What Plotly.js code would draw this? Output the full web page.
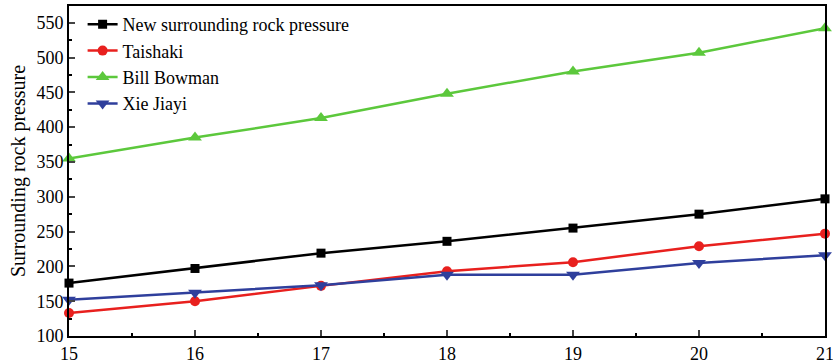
<!DOCTYPE html>
<html><head><meta charset="utf-8">
<script src="https://cdn.plot.ly/plotly-3.0.1.min.js"></script>
<style>body{margin:0;background:#fff}#c{width:833px;height:364px}</style>
</head><body><div id="c"></div>
<script>
const xs = [15,16,17,18,19,20,21];
const newPressure = [176,197,219,236,255,275,297];
const taishaki = [133,150,172,193,206,229,247];
const billBowman = [355,385,413,448,480,507,542];
const xieJiayi = [152,162,173,188,188,205,216];
const names = ['New surrounding rock pressure','Taishaki','Bill Bowman','Xie Jiayi'];
const colors = ['#000000','#e8201e','#5cc83c','#2f3f9c'];
const symbols = ['square','circle','triangle-up','triangle-down'];
const sizes = [9,10,12,12];
const series = [newPressure, taishaki, billBowman, xieJiayi];
const traces = series.map((y,i)=>({x:xs,y:y,name:names[i],mode:'lines+markers',
  line:{color:colors[i],width:2.5},marker:{symbol:symbols[i],size:sizes[i],color:colors[i]},cliponaxis:false}));
const font = {family:'"Liberation Serif", "Times New Roman", serif', color:'#000', size:18};
Plotly.newPlot('c', traces, {
  width:833,height:364,margin:{l:69,r:8,t:6,b:28},
  paper_bgcolor:'#fff',plot_bgcolor:'#fff',font:font,showlegend:true,
  legend:{x:0.018,y:1.0,xanchor:'left',yanchor:'top',bgcolor:'rgba(0,0,0,0)',font:{family:font.family,size:18,color:'#000'},
    tracegroupgap:0,itemsizing:'trace'},
  xaxis:{range:[15,21],tickvals:xs,ticks:'inside',ticklen:6,tickwidth:1.5,showgrid:false,zeroline:false,
    showline:true,linecolor:'#000',linewidth:2,mirror:true,tickfont:{size:18},ticklabeloverflow:'allow',
    minor:{dtick:0.5,ticks:'inside',ticklen:3,tickcolor:'#000',showgrid:false}},
  yaxis:{range:[100,574],dtick:50,tick0:100,ticks:'inside',ticklen:6,tickwidth:1.5,showgrid:false,zeroline:false,
    showline:true,linecolor:'#000',linewidth:2,mirror:true,tickfont:{size:18},
    title:{text:'Surrounding rock pressure',font:{size:20},standoff:5},
    minor:{dtick:25,ticks:'inside',ticklen:3,tickcolor:'#000',showgrid:false}}
},{displayModeBar:false});
</script></body></html>
